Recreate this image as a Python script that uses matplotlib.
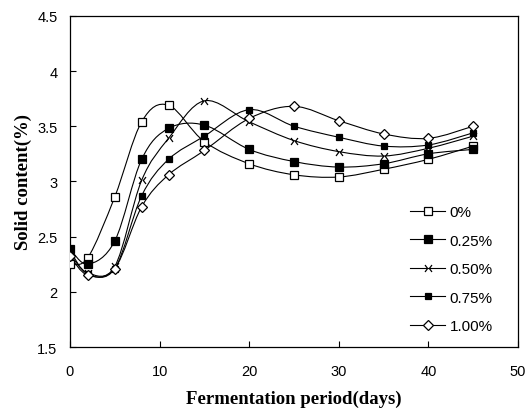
import matplotlib
matplotlib.use("Agg")
import matplotlib.pyplot as plt
import numpy as np
from matplotlib.path import Path
from matplotlib.patches import PathPatch
from matplotlib.lines import Line2D

days = [0, 2, 5, 8, 11, 15, 20, 25, 30, 35, 40, 45]
labels = ["0%", "0.25%", "0.50%", "0.75%", "1.00%"]
s0 = [2.25, 2.31, 2.86, 3.54, 3.69, 3.36, 3.16, 3.06, 3.04, 3.11, 3.20, 3.32]
s25 = [2.39, 2.25, 2.46, 3.20, 3.48, 3.51, 3.29, 3.18, 3.13, 3.16, 3.25, 3.29]
s50 = [2.34, 2.17, 2.23, 3.01, 3.39, 3.73, 3.54, 3.37, 3.27, 3.23, 3.30, 3.41]
s75 = [2.37, 2.16, 2.21, 2.87, 3.20, 3.41, 3.65, 3.50, 3.40, 3.32, 3.33, 3.44]
s100 = [2.32, 2.15, 2.21, 2.77, 3.06, 3.28, 3.57, 3.68, 3.55, 3.43, 3.39, 3.50]
series = [s0, s25, s50, s75, s100]

# bowtie-ish marker used for the 0.50% series
bow = Path([(-1, 1), (-0.25, 0), (-1, -1), (1, 1), (0.25, 0), (1, -1)],
           [Path.MOVETO, Path.LINETO, Path.LINETO, Path.MOVETO, Path.LINETO, Path.LINETO])

styles = [
    dict(marker="s", mfc="white", mec="black", ms=6),
    dict(marker="s", mfc="black", mec="black", ms=5.8),
    dict(marker=bow, mfc="none", mec="black", ms=5),
    dict(marker="s", mfc="black", mec="black", ms=4),
    dict(marker="D", mfc="white", mec="black", ms=5),
]


def smooth_path(x, y):
    # Excel-like smoothed line: cubic bezier through the points
    p = np.column_stack([x, y]).astype(float)
    n = len(p)
    verts = [p[0]]
    codes = [Path.MOVETO]
    for i in range(n - 1):
        p0 = p[i - 1] if i > 0 else p[i]
        p3 = p[i + 2] if i + 2 < n else p[i + 1]
        c1 = p[i] + (p[i + 1] - p0) / 6
        c2 = p[i + 1] - (p3 - p[i]) / 6
        verts += [c1, c2, p[i + 1]]
        codes += [Path.CURVE4] * 3
    return Path(verts, codes)


fig = plt.figure(figsize=(5.27, 4.14), dpi=100)
ax = fig.add_axes([0.1328, 0.1594, 0.850, 0.800])

handles = []
for vals, st, lab in zip(series, styles, labels):
    ax.add_patch(PathPatch(smooth_path(days, vals), fill=False, lw=0.8, ec="black"))
    ax.plot(days, vals, ls="none", marker=st["marker"], mfc=st["mfc"], mec=st["mec"],
            ms=st["ms"], mew=0.9, zorder=3)
    handles.append(Line2D([], [], color="black", lw=0.8, marker=st["marker"],
                          mfc=st["mfc"], mec=st["mec"], ms=st["ms"], mew=0.9))

ax.set_xlim(0, 50)
ax.set_ylim(1.5, 4.5)
ax.set_xticks([0, 10, 20, 30, 40, 50])
ax.set_yticks([1.5, 2, 2.5, 3, 3.5, 4, 4.5])
ax.set_yticklabels(["1.5", "2", "2.5", "3", "3.5", "4", "4.5"])
ax.tick_params(direction="in", length=4, width=0.8, labelsize=10.5)
ax.tick_params(axis="x", pad=12)
ax.tick_params(axis="y", pad=9)
for lab in ax.get_xticklabels() + ax.get_yticklabels():
    lab.set_family("Liberation Sans")
for sp in ax.spines.values():
    sp.set_linewidth(0.9)

ax.set_xlabel("Fermentation period(days)", family="Liberation Serif", weight="bold",
              fontsize=13.5, labelpad=9)
ax.set_ylabel("Solid content(%)", family="Liberation Serif", weight="bold",
              fontsize=13.5, labelpad=4)

leg = ax.legend(handles, labels, frameon=False, loc="lower right",
                bbox_to_anchor=(0.975, 0.0), handlelength=2.3, handletextpad=0.3,
                labelspacing=0.95, prop={"family": "Liberation Sans", "size": 11})

fig.savefig("out.png", dpi=100)
